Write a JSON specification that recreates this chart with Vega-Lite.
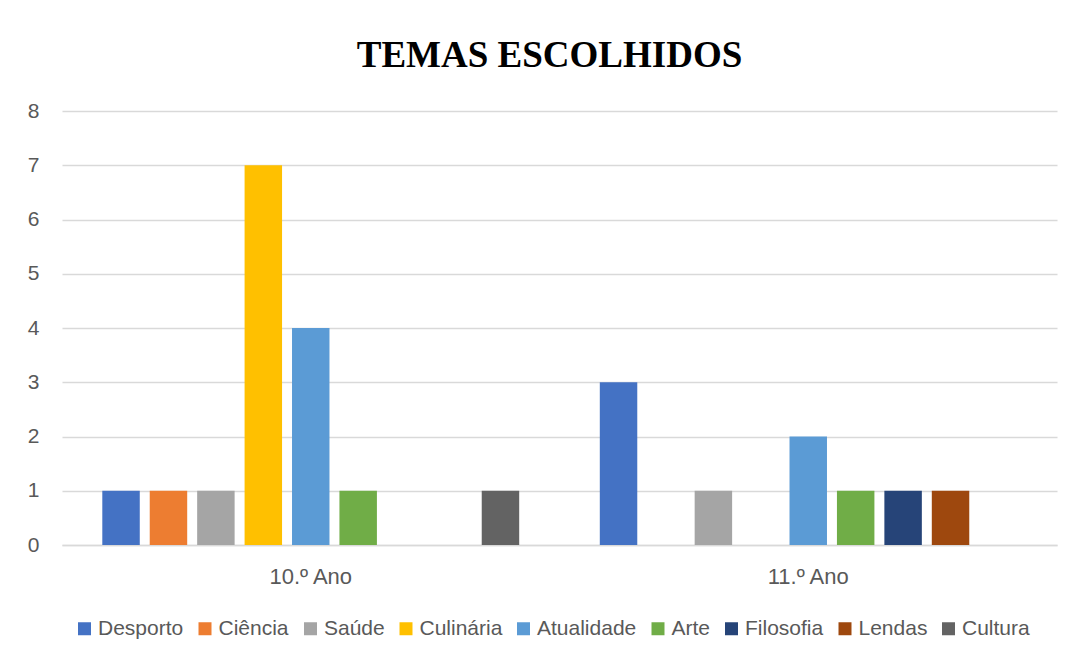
{
  "$schema": "https://vega.github.io/schema/vega-lite/v6.json",
  "width": 995,
  "height": 434,
  "autosize": {"type": "none"},
  "padding": {"left": 62, "top": 111, "right": 16, "bottom": 115},
  "background": "white",
  "title": {
    "text": "TEMAS ESCOLHIDOS",
    "font": "Liberation Serif",
    "fontSize": 37,
    "fontWeight": "bold",
    "color": "#000000",
    "anchor": "middle",
    "dx": -10,
    "offset": 25
  },
  "data": {
    "values": [
      {"ano": "10.º Ano", "tema": "Desporto", "valor": 1},
      {"ano": "10.º Ano", "tema": "Ciência", "valor": 1},
      {"ano": "10.º Ano", "tema": "Saúde", "valor": 1},
      {"ano": "10.º Ano", "tema": "Culinária", "valor": 7},
      {"ano": "10.º Ano", "tema": "Atualidade", "valor": 4},
      {"ano": "10.º Ano", "tema": "Arte", "valor": 1},
      {"ano": "10.º Ano", "tema": "Filosofia", "valor": 0},
      {"ano": "10.º Ano", "tema": "Lendas", "valor": 0},
      {"ano": "10.º Ano", "tema": "Cultura", "valor": 1},
      {"ano": "11.º Ano", "tema": "Desporto", "valor": 3},
      {"ano": "11.º Ano", "tema": "Ciência", "valor": 0},
      {"ano": "11.º Ano", "tema": "Saúde", "valor": 1},
      {"ano": "11.º Ano", "tema": "Culinária", "valor": 0},
      {"ano": "11.º Ano", "tema": "Atualidade", "valor": 2},
      {"ano": "11.º Ano", "tema": "Arte", "valor": 1},
      {"ano": "11.º Ano", "tema": "Filosofia", "valor": 1},
      {"ano": "11.º Ano", "tema": "Lendas", "valor": 1},
      {"ano": "11.º Ano", "tema": "Cultura", "valor": 0}
    ]
  },
  "mark": {"type": "bar"},
  "encoding": {
    "x": {
      "field": "ano",
      "type": "nominal",
      "scale": {"paddingInner": 0.142, "paddingOuter": 0.071},
      "axis": {
        "title": null,
        "labelAngle": 0,
        "labelFont": "Liberation Sans",
        "labelFontSize": 22,
        "labelColor": "#595959",
        "labelPadding": 21,
        "ticks": false,
        "domain": true,
        "domainColor": "#D9D9D9",
        "domainWidth": 1.5,
        "grid": false
      }
    },
    "xOffset": {
      "field": "tema",
      "type": "nominal",
      "sort": ["Desporto", "Ciência", "Saúde", "Culinária", "Atualidade", "Arte", "Filosofia", "Lendas", "Cultura"],
      "scale": {"paddingInner": 0.21, "paddingOuter": 0.105}
    },
    "y": {
      "field": "valor",
      "type": "quantitative",
      "scale": {"domain": [0, 8], "nice": false},
      "axis": {
        "title": null,
        "values": [0, 1, 2, 3, 4, 5, 6, 7, 8],
        "labelOverlap": false,
        "labelFont": "Liberation Sans",
        "labelFontSize": 21,
        "labelColor": "#595959",
        "labelPadding": 23,
        "ticks": false,
        "domain": false,
        "grid": true,
        "gridColor": "#D9D9D9",
        "gridWidth": 1.5
      }
    },
    "color": {
      "field": "tema",
      "type": "nominal",
      "sort": ["Desporto", "Ciência", "Saúde", "Culinária", "Atualidade", "Arte", "Filosofia", "Lendas", "Cultura"],
      "scale": {
        "domain": ["Desporto", "Ciência", "Saúde", "Culinária", "Atualidade", "Arte", "Filosofia", "Lendas", "Cultura"],
        "range": ["#4472C4", "#ED7D31", "#A5A5A5", "#FFC000", "#5B9BD5", "#70AD47", "#264478", "#9E480E", "#636363"]
      },
      "legend": {
        "title": null,
        "orient": "none",
        "legendX": 12,
        "legendY": 507,
        "direction": "horizontal",
        "symbolType": "square",
        "symbolSize": 169,
        "symbolStrokeWidth": 0,
        "labelFont": "Liberation Sans",
        "labelFontSize": 21,
        "labelColor": "#595959",
        "columnPadding": 10.5,
        "labelOffset": 3,
        "columns": 9
      }
    }
  },
  "config": {
    "view": {"stroke": null}
  }
}
